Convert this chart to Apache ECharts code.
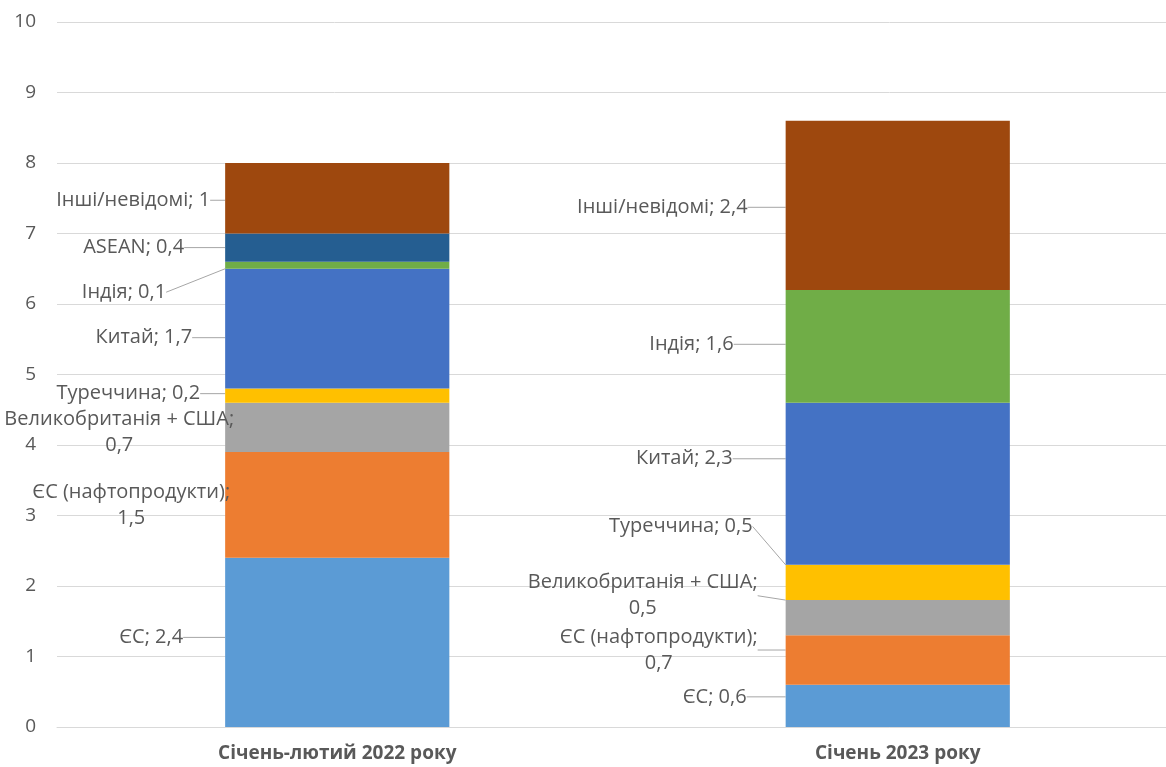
<!DOCTYPE html>
<html>
<head>
<meta charset="utf-8">
<script src="https://cdn.jsdelivr.net/npm/echarts@6/dist/echarts.min.js"></script>
<style>
  html, body { margin: 0; padding: 0; background: #fff; }
  #main { width: 1166px; height: 767px; }
</style>
</head>
<body>
<div id="main"></div>
<script>
  // categories and series
  var categories = ['Січень-лютий 2022 року', 'Січень 2023 року'];
  var seriesNames = ['ЄС', 'ЄС (нафтопродукти)', 'Великобританія + США', 'Туреччина', 'Китай', 'Індія', 'ASEAN', 'Інші/невідомі'];
  var eu = [2.4, 0.6];
  var euOil = [1.5, 0.7];
  var ukUs = [0.7, 0.5];
  var turkey = [0.2, 0.5];
  var china = [1.7, 2.3];
  var india = [0.1, 1.6];
  var asean = [0.4, null];
  var other = [1, 2.4];
  var colors = ['#5b9bd5', '#ed7d31', '#a5a5a5', '#ffc000', '#4472c4', '#70ad47', '#255e91', '#9e480e'];

  // label offsets [dx from bar left to label right edge, dy from segment middle], per category
  var shift2022 = [[-42, -5], [5, 0], [9, 5], [-25, -2], [-33, 9], [-59, 27], [-41, 0], [-15, 2]];
  var shift2023 = [[-39, -9], [-28, -10], [-28, -22], [-33, -56], [-53, -25], [-52, -2], [0, 0], [-38, 2]];
  var shifts = [shift2022, shift2023];

  var values = [eu, euOil, ukUs, turkey, china, india, asean, other];
  var FONT = 'Open Sans';

  function fmt(v) {
    return String(v).replace('.', ',');
  }

  var series = seriesNames.map(function (name, si) {
    return {
      name: name,
      type: 'bar',
      stack: 'total',
      barWidth: '40%',
      itemStyle: { color: colors[si] },
      data: values[si].map(function (v, ci) {
        var dx = shifts[ci][si][0];
        return { value: v, labelLine: { show: dx < 0 } };
      }),
      label: {
        show: true,
        position: 'inside',
        color: '#595959',
        fontSize: 20,
        fontFamily: FONT,
        lineHeight: 26,
        formatter: function (p) {
          if (p.value == null) return '';
          var sep = p.seriesName.length > 15 ? ';\n' : '; ';
          return p.seriesName + sep + fmt(p.value);
        }
      },
      labelLine: {
        show: true,
        lineStyle: { color: '#a6a6a6', width: 1 }
      },
      labelLayout: function (p) {
        var s = shifts[p.dataIndex][p.seriesIndex];
        var right = p.rect.x + s[0];
        var y = p.rect.y + p.rect.height / 2 + s[1];
        if (p.text.indexOf('\n') >= 0) {
          return { x: right - p.labelRect.width / 2, y: y, align: 'center', verticalAlign: 'middle' };
        }
        return { x: right, y: y, align: 'right', verticalAlign: 'middle' };
      }
    };
  });

  var option = {
    animation: false,
    textStyle: { fontFamily: FONT },
    grid: { left: 57, top: 22, width: 1121, height: 705, containLabel: false, outerBoundsMode: 'none' },
    xAxis: {
      type: 'category',
      data: categories,
      axisTick: { show: false },
      axisLine: { lineStyle: { color: '#d9d9d9' } },
      axisLabel: { color: '#595959', fontSize: 19, fontWeight: 'bold', margin: 17, fontFamily: FONT }
    },
    yAxis: {
      type: 'value',
      min: 0,
      max: 10,
      interval: 1,
      axisLine: { show: false },
      axisTick: { show: false },
      axisLabel: { color: '#595959', fontSize: 19, margin: 21, fontFamily: FONT },
      splitLine: { lineStyle: { color: '#d9d9d9', width: 1 } }
    },
    series: series
  };

  var myChart = echarts.init(document.getElementById('main'));
  myChart.setOption(option);
</script>
</body>
</html>
